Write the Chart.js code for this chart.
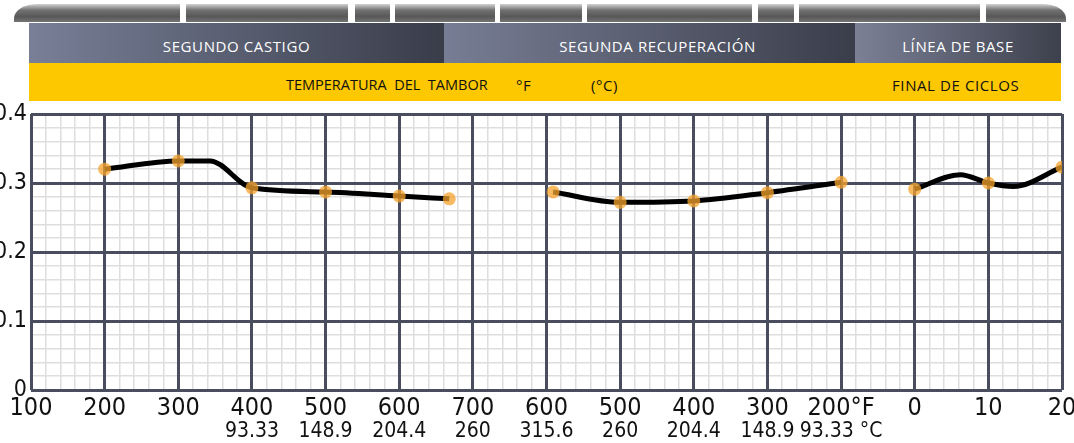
<!DOCTYPE html>
<html>
<head>
<meta charset="utf-8">
<script src="https://cdn.jsdelivr.net/npm/chart.js@4"></script>
<style>
body{margin:0;background:#fff;width:1074px;height:443px;overflow:hidden;position:relative;font-family:'Open Sans',sans-serif}
#chart{position:absolute;left:0;top:0}
.strip{position:absolute;top:4px;left:14px;width:1052px;height:18px;border-radius:24px 24px 0 0/14px 14px 0 0;background:linear-gradient(#d2d2d2,#707070 35%,#585858 70%,#747474)}
.gap{position:absolute;top:0;height:18px;background:#fff}
.bar{position:absolute;top:23px;height:40px;color:#fff;font-size:15px;letter-spacing:0.6px;line-height:40px;text-align:center;padding-top:3px;box-sizing:border-box}
.yellow{position:absolute;left:29px;top:63px;width:1032px;height:38px;background:#fdc800}
.yellow span{position:absolute;top:12px;font-size:15px;letter-spacing:0.6px;color:#111;white-space:pre}
</style>
</head>
<body>
<canvas id="chart" width="1074" height="443"></canvas>

<div class="strip">
  <div class="gap" style="left:166px;width:6px"></div>
  <div class="gap" style="left:334px;width:7px"></div>
  <div class="gap" style="left:376px;width:5px"></div>
  <div class="gap" style="left:481px;width:5px"></div>
  <div class="gap" style="left:568px;width:5px"></div>
  <div class="gap" style="left:738px;width:6px"></div>
  <div class="gap" style="left:780px;width:5px"></div>
  <div class="gap" style="left:966px;width:6px"></div>
</div>
<div class="bar" style="left:29px;width:415px;background:linear-gradient(90deg,#787f97,#393d4a)">SEGUNDO CASTIGO</div>
<div class="bar" style="left:444px;width:411px;padding-left:16px;background:linear-gradient(90deg,#777d94,#3a3e4b)">SEGUNDA RECUPERACIÓN</div>
<div class="bar" style="left:855px;width:206px;background:linear-gradient(90deg,#7b8096,#3d414d)">LÍNEA DE BASE</div>
<div class="yellow">
  <span style="left:257px;font-size:14.5px;letter-spacing:0">TEMPERATURA  DEL  TAMBOR</span>
  <span style="left:487px">°F</span>
  <span style="left:562px">(°C)</span>
  <span style="left:863px">FINAL DE CICLOS</span>
</div>

<script>
// eje x: 0..14 posiciones, etiquetas en dos filas
const xTopLabels = ['100', '200', '300', '400', '500', '600', '700', '600', '500', '400', '300', '200°F', '0', '10', '20'];
const xBottomLabels = ['', '', '', '93.33', '148.9', '204.4', '260', '315.6', '260', '204.4', '148.9', '93.33 °C', '', '', ''];
const yTickLabels = ['0', '0.1', '0.2', '0.3', '0.4'];

// segundo castigo
const castigoX = [1, 2, 3, 4, 5, 5.68];
const castigoY = [0.320, 0.332, 0.293, 0.287, 0.281, 0.277];
const castigoBendX = [2.43];
const castigoBendY = [0.332];

// segunda recuperacion
const recupX = [7.09, 8, 9, 10, 11];
const recupY = [0.287, 0.272, 0.274, 0.286, 0.301];

// linea de base / final de ciclos
const baseX = [12, 13, 14];
const baseY = [0.291, 0.300, 0.323];
const baseBendX = [12.62, 13.34];
const baseBendY = [0.312, 0.295];

const tickFont = "'Liberation Sans Narrow', 'DejaVu Sans Condensed', sans-serif";

function pts(xs, ys) {
    return xs.map((x, i) => ({x: x, y: ys[i]}));
}
function curve(xs, ys, bx, by) {
    return pts(xs, ys).concat(pts(bx, by)).sort((a, b) => a.x - b.x);
}

function lineSet(data) {
    return {
        data: data,
        borderColor: '#000',
        borderWidth: 5,
        pointRadius: 0,
        cubicInterpolationMode: 'monotone',
        order: 2
    };
}

// la etiqueta "20" puede tocar el borde derecho
function noSidePadding(s) {
    s.paddingLeft = 0;
    s.paddingRight = 12;
}

var ctx = document.getElementById('chart');
var myChart = new Chart(ctx, {
    type: 'line',
    data: {
        datasets: [
            lineSet(curve(castigoX, castigoY, castigoBendX, castigoBendY)),
            lineSet(pts(recupX, recupY)),
            lineSet(curve(baseX, baseY, baseBendX, baseBendY)),
            {
                data: pts(castigoX, castigoY).concat(pts(recupX, recupY), pts(baseX, baseY)),
                showLine: false,
                pointRadius: 6.5,
                pointBorderWidth: 0,
                pointBackgroundColor: 'rgba(246,163,44,0.75)',
                order: 1
            }
        ]
    },
    options: {
        responsive: false,
        devicePixelRatio: 1,
        animation: false,
        layout: {padding: {top: 114, right: 0, left: 0, bottom: 0}},
        plugins: {legend: {display: false}, tooltip: {enabled: false}},
        scales: {
            xMinor: {
                type: 'linear', position: 'top', min: 0, max: 14,
                ticks: {display: false, stepSize: 0.2, autoSkip: false},
                grid: {color: '#dedede', lineWidth: 1.5, drawTicks: false, z: -2},
                border: {display: false},
                afterFit: function(s) { s.height = 0; noSidePadding(s); }
            },
            yMinor: {
                type: 'linear', position: 'right', min: 0, max: 0.4,
                ticks: {display: false, stepSize: 0.02, autoSkip: false},
                grid: {color: '#dedede', lineWidth: 1.5, drawTicks: false, z: -2},
                border: {display: false},
                afterFit: function(s) { s.width = 0; }
            },
            x: {
                type: 'linear', position: 'bottom', min: 0, max: 14, weight: 0,
                ticks: {
                    stepSize: 1, autoSkip: false, maxRotation: 0, padding: 3,
                    color: '#111', font: {family: tickFont, size: 25},
                    callback: function(v, i) { return xTopLabels[i]; }
                },
                grid: {color: '#4a4d5e', lineWidth: 3, drawTicks: false, z: -1},
                border: {display: false},
                afterFit: function(s) { s.height = 28; noSidePadding(s); }
            },
            xC: {
                type: 'linear', position: 'bottom', min: 0, max: 14, weight: 1,
                ticks: {
                    stepSize: 1, autoSkip: false, maxRotation: 0, padding: 1,
                    color: '#111', font: {family: tickFont, size: 21},
                    callback: function(v, i) { return xBottomLabels[i]; }
                },
                grid: {display: false, drawTicks: false},
                border: {display: false},
                afterFit: function(s) { s.height = 25; noSidePadding(s); }
            },
            y: {
                type: 'linear', position: 'left', min: 0, max: 0.4,
                ticks: {
                    stepSize: 0.1, padding: 4,
                    color: '#111', font: {family: tickFont, size: 23},
                    callback: function(v, i) { return yTickLabels[i]; }
                },
                grid: {color: '#4a4d5e', lineWidth: 3, drawTicks: false, z: -1},
                border: {display: false},
                afterFit: function(s) { s.width = 31; }
            }
        }
    }
});
</script>
</body>
</html>
